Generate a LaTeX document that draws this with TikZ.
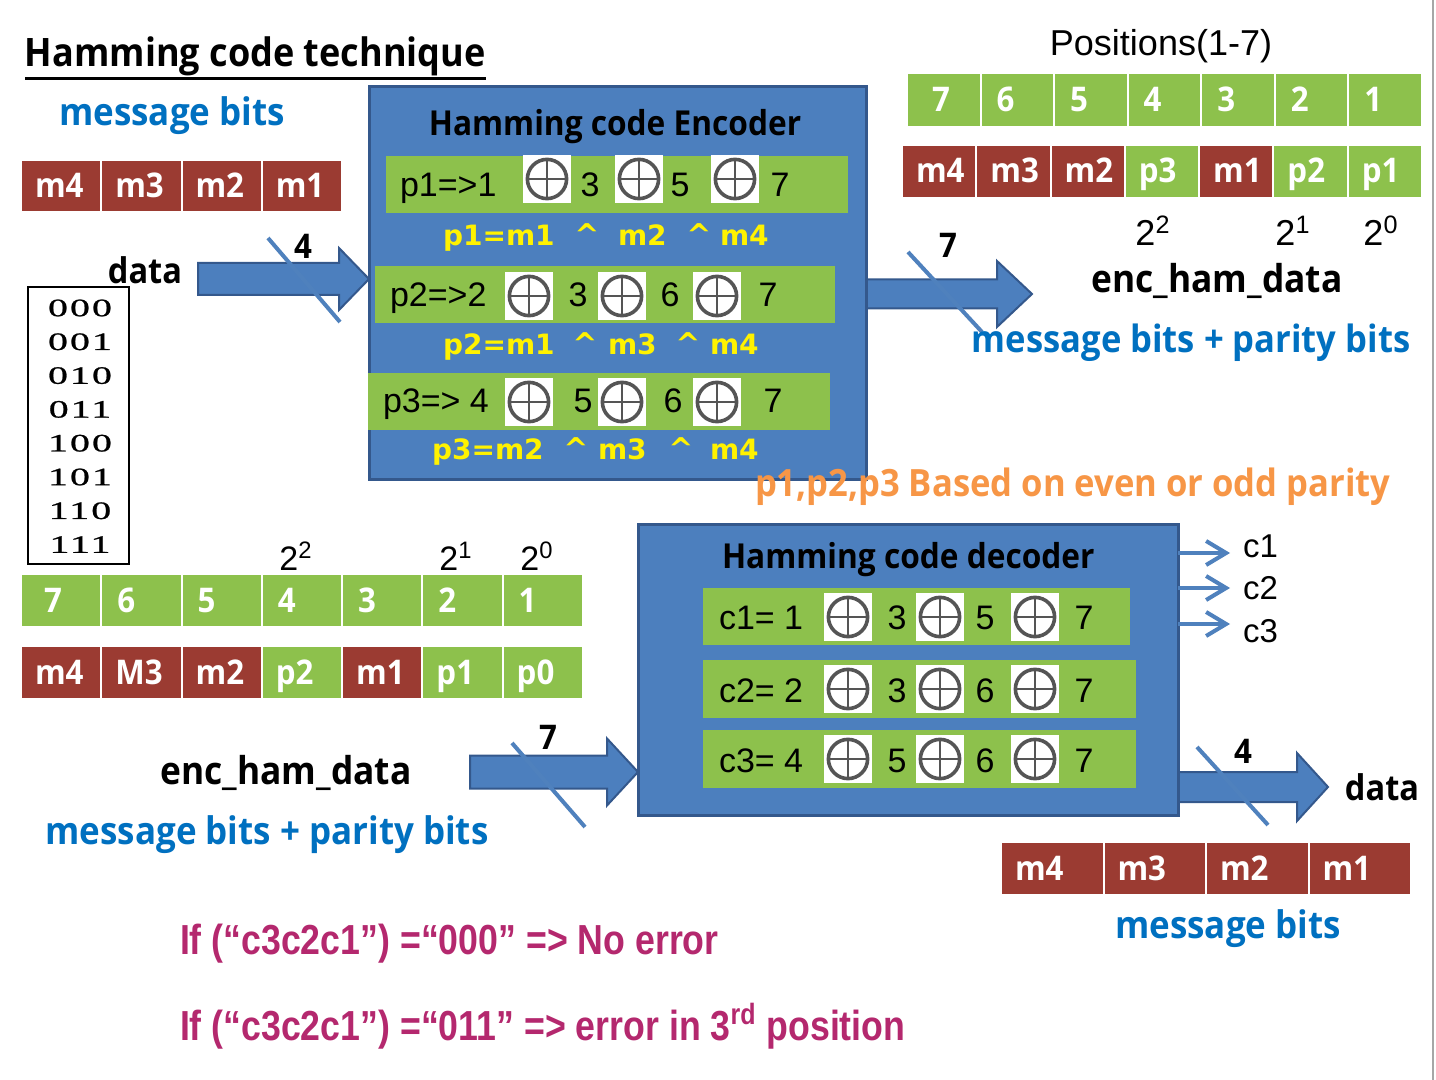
\documentclass[tikz,border=0pt]{standalone}
\usepackage{fontspec}
\setmainfont{Liberation Sans}
\newfontfamily\segf[FakeStretch=0.92]{Open Sans}
\newfontfamily\verf{DejaVu Sans}
\newfontfamily\narf[FakeStretch=0.85]{Liberation Sans}
\newfontfamily\copf[FakeStretch=1.6,LetterSpace=8,FakeBold=1]{Liberation Serif}
\usetikzlibrary{calc,arrows.meta}
\definecolor{cgreen}{RGB}{141,193,76}
\definecolor{cred}{RGB}{155,59,50}
\definecolor{bfill}{RGB}{76,127,190}
\definecolor{bdraw}{RGB}{52,88,140}
\definecolor{tblue}{RGB}{0,112,192}
\definecolor{torange}{RGB}{247,150,70}
\definecolor{tmag}{RGB}{180,40,110}
\definecolor{xorgray}{RGB}{85,85,85}
\definecolor{slashblue}{RGB}{79,129,189}
\tikzset{
  every node/.style={inner sep=0pt, outer sep=0pt},
  segb/.style={font=\segf\bfseries\fontsize{#1}{#1}\selectfont},
  arl/.style={font=\fontsize{#1}{#1}\selectfont},
  yel/.style={font=\verf\bfseries\fontsize{#1}{#1}\selectfont, text=yellow, anchor=base west},
  celltxt/.style={font=\segf\bfseries\fontsize{17}{17}\selectfont, text=white, anchor=base west},
  cellbox/.style={fill=#1, draw=white, line width=1pt},
  blockbox/.style={rectangle, fill=bfill, draw=bdraw, line width=1.5pt},
  greenrow/.style={rectangle, fill=cgreen},
  barrow/.style={fill=bfill, draw=bdraw, line width=1pt, line join=miter},
  slash/.style={draw=slashblue, line width=2pt},
  thinarrow/.style={draw=slashblue, line width=2pt, -{Straight Barb[length=10pt,width=12pt,line width=2pt]}},
  xorbox/.style={rectangle, fill=white, minimum size=24pt, path picture={
      \draw[xorgray, line width=1.8pt] (path picture bounding box.center) circle (9.8pt);
      \draw[xorgray, line width=1.4pt] ([yshift=9.8pt]path picture bounding box.center) -- ([yshift=-9.8pt]path picture bounding box.center)
        ([xshift=-9.8pt]path picture bounding box.center) -- ([xshift=9.8pt]path picture bounding box.center);}},
}
\newcommand\blockarrow[5]{%
  \draw[barrow] ($(#1)+(0,-#3)$) -- ($(#2)+(-#5,-#3)$) -- ($(#2)+(-#5,-#4)$) -- (#2)
    -- ($(#2)+(-#5,#4)$) -- ($(#2)+(-#5,#3)$) -- ($(#1)+(0,#3)$) -- cycle;}
\begin{document}
\begin{tikzpicture}[x=0.5pt,y=-0.5pt]
\useasboundingbox (0,0) rectangle (1436,1080);
\fill[white] (0,0) rectangle (1436,1080);
\draw[gray!70, line width=1pt] (1433,0) -- (1433,1080);

% ---------- title and message bits (top left)
\node[segb=19.6, anchor=base west] (title) at (25,67) {Hamming code technique};
\draw[line width=1.5pt] ([yshift=-6pt]title.base west) -- ([yshift=-6pt]title.base east);
\node[segb=19, text=tblue] (msg1) at (172,116) {message bits};
\foreach \t [count=\i from 0] in {m4,m3,m2,m1}{
  \path[cellbox=cred] ({21+\i*80.25},160) rectangle ({21+(\i+1)*80.25},212);
  \node[celltxt] (tl\i) at ({21+\i*80.25+14},198) {\t};
}
\node[segb=17.7] (data1) at (145,270) {data};
\node[draw, line width=0.8pt, minimum width=50.5pt, minimum height=138.5pt] (bin) at (78.5,425.5) {};
\foreach \t [count=\i from 0] in {000,001,010,011,100,101,110,111}{
  \node[font=\copf\fontsize{12.5}{12.5}\selectfont] (bin\i) at (80,{308+33.8*\i}) {\t};
}

% ---------- arrows (drawn under the boxes)
\coordinate (a1s) at (198,279);
\coordinate (a2t) at (1032,294);
\coordinate (a3s) at (470,772);
\coordinate (a4t) at (1328,787);

% ---------- encoder
\node[blockbox, minimum width=248.5pt, minimum height=196.5pt] (enc) at (617.5,283.5) {};
\coordinate (a1t) at (enc.west |- a1s);
\coordinate (a2s) at (enc.east |- a2t);
\blockarrow{a1s}{a1t}{16}{31}{30}
\blockarrow{a2s}{a2t}{14.5}{33}{35}
\node[blockbox, minimum width=248.5pt, minimum height=196.5pt] (encb) at (617.5,283.5) {};
\node[segb=17.2, anchor=base] (enctitle) at (615,136) {Hamming code Encoder};
\node[greenrow, minimum width=231pt, minimum height=28.5pt] (er1) at (617,184.5) {};
\node[greenrow, minimum width=230pt, minimum height=28.5pt] (er2) at (605,294.5) {};
\node[greenrow, minimum width=231pt, minimum height=28.5pt] (er3) at (599,401.5) {};
% row 1
\node[arl=17, anchor=base west] (e1a) at (400,197) {p1=>1};
\node[xorbox] (e1x1) at (547,179) {};
\node[xorbox] (e1x2) at (639,179) {};
\node[xorbox] (e1x3) at (735,179) {};
\node[arl=17, anchor=base] (e1n1) at (590,197) {3};
\node[arl=17, anchor=base] (e1n2) at (680,197) {5};
\node[arl=17, anchor=base] (e1n3) at (780,197) {7};
% row 2
\node[arl=17, anchor=base west] (e2a) at (390,307) {p2=>2};
\node[xorbox] (e2x1) at (529,296) {};
\node[xorbox] (e2x2) at (622,296) {};
\node[xorbox] (e2x3) at (717,296) {};
\node[arl=17, anchor=base] (e2n1) at (578,307) {3};
\node[arl=17, anchor=base] (e2n2) at (670,307) {6};
\node[arl=17, anchor=base] (e2n3) at (768,307) {7};
% row 3
\node[arl=17, anchor=base west] (e3a) at (383,413) {p3=> 4};
\node[xorbox] (e3x1) at (529,402) {};
\node[xorbox] (e3x2) at (622,402) {};
\node[xorbox] (e3x3) at (717,402) {};
\node[arl=17, anchor=base] (e3n1) at (583,413) {5};
\node[arl=17, anchor=base] (e3n2) at (673,413) {6};
\node[arl=17, anchor=base] (e3n3) at (773,413) {7};
% yellow equations
\node[yel=14] (y1a) at (443,246) {p1=m1};
\node[yel=15, anchor=base] (y1b) at (587,246) {\textasciicircum};
\node[yel=14] (y1c) at (618,246) {m2};
\node[yel=15, anchor=base] (y1d) at (699,246) {\textasciicircum};
\node[yel=14] (y1e) at (720,246) {m4};
\node[yel=14] (y2a) at (443,355) {p2=m1};
\node[yel=15, anchor=base] (y2b) at (585,355) {\textasciicircum};
\node[yel=14] (y2c) at (608,355) {m3};
\node[yel=15, anchor=base] (y2d) at (688,355) {\textasciicircum};
\node[yel=14] (y2e) at (710,355) {m4};
\node[yel=14] (y3a) at (432,460) {p3=m2};
\node[yel=15, anchor=base] (y3b) at (576,460) {\textasciicircum};
\node[yel=14] (y3c) at (598,460) {m3};
\node[yel=15, anchor=base] (y3d) at (681,460) {\textasciicircum};
\node[yel=14] (y3e) at (710,460) {m4};

% input arrow labels
\draw[slash] (268,238) -- (340,322);
\node[segb=17] (n4a) at (303,246) {4};
\draw[slash] (908,252) -- (982,332);
\node[segb=17] (n7a) at (948,245) {7};

% ---------- top right
\node[arl=18, anchor=base] (pos) at (1161,56) {Positions(1-7)};
\foreach \t [count=\i from 0] in {7,6,5,4,3,2,1}{
  \path[cellbox=cgreen] ({907+\i*73.57},73) rectangle ({907+(\i+1)*73.57},127);
  \node[celltxt] (tr\i) at ({907+\i*73.57+16+(\i==0)*9},112) {\t};
}
\foreach \t/\c [count=\i from 0] in {m4/cred,m3/cred,m2/cred,p3/cgreen,m1/cred,p2/cgreen,p1/cgreen}{
  \path[cellbox=\c] ({902+\i*74.29},145) rectangle ({902+(\i+1)*74.29},198);
  \node[celltxt] (trb\i) at ({902+\i*74.29+14},183) {\t};
}
\node[arl=18, anchor=base] (ts2) at (1153,246) {2\textsuperscript{2}};
\node[arl=18, anchor=base] (ts1) at (1293,246) {2\textsuperscript{1}};
\node[arl=18, anchor=base] (ts0) at (1381,246) {2\textsuperscript{0}};
\node[segb=19.2] (eh1) at (1217,281) {enc\_ham\_data};
\node[segb=18.8, text=tblue] (mp1) at (1191,343) {message bits + parity bits};
\node[segb=18.8, text=torange, anchor=base west] (par) at (755,497) {p1,p2,p3 Based on even or odd parity};

% ---------- bottom left tables
\node[arl=17, anchor=base] (bs2) at (296,571) {2\textsuperscript{2}};
\node[arl=17, anchor=base] (bs1) at (456,571) {2\textsuperscript{1}};
\node[arl=17, anchor=base] (bs0) at (537,571) {2\textsuperscript{0}};
\foreach \t [count=\i from 0] in {7,6,5,4,3,2,1}{
  \path[cellbox=cgreen] ({21+\i*80.29},574) rectangle ({21+(\i+1)*80.29},627);
  \node[celltxt] (bl\i) at ({21+\i*80.29+16+(\i==0)*7},612) {\t};
}
\foreach \t/\c [count=\i from 0] in {m4/cred,M3/cred,m2/cred,p2/cgreen,m1/cred,p1/cgreen,p0/cgreen}{
  \path[cellbox=\c] ({21+\i*80.29},646) rectangle ({21+(\i+1)*80.29},699);
  \node[celltxt] (blb\i) at ({21+\i*80.29+14},684) {\t};
}
\node[segb=19.2] (eh2) at (286,773) {enc\_ham\_data};
\node[segb=19, text=tblue] (mp2) at (267,835) {message bits + parity bits};

% ---------- decoder
\node[blockbox, minimum width=270pt, minimum height=145pt] (dec) at (908,670) {};
\coordinate (a3t) at (dec.west |- a3s);
\coordinate (a4s) at (dec.east |- a4t);
\blockarrow{a3s}{a3t}{16.5}{33.5}{31}
\blockarrow{a4s}{a4t}{15}{34}{31}
\node[blockbox, minimum width=270pt, minimum height=145pt] (decb) at (908,670) {};
\node[segb=17.2, anchor=base west] (dectitle) at (722,568) {Hamming code decoder};
\node[greenrow, minimum width=213.5pt, minimum height=28.5pt] (dr1) at (916.5,616.5) {};
\node[greenrow, minimum width=216.5pt, minimum height=29pt] (dr2) at (919.5,689) {};
\node[greenrow, minimum width=216.5pt, minimum height=29pt] (dr3) at (919.5,759) {};
\node[arl=17, anchor=base west] (d1a) at (719,630) {c1= 1};
\node[arl=17, anchor=base west] (d2a) at (719,702) {c2= 2};
\node[arl=17, anchor=base west] (d3a) at (719,772) {c3= 4};
\foreach \r/\yy/\yb/\na/\nb/\nc in {1/617/630/3/5/7, 2/689/702/3/6/7, 3/759/772/5/6/7}{
  \node[xorbox] (d\r x1) at (848,\yy) {};
  \node[xorbox] (d\r x2) at (940,\yy) {};
  \node[xorbox] (d\r x3) at (1035,\yy) {};
  \node[arl=17, anchor=base] (d\r n1) at (897,\yb) {\na};
  \node[arl=17, anchor=base] (d\r n2) at (985,\yb) {\nb};
  \node[arl=17, anchor=base] (d\r n3) at (1084,\yb) {\nc};
}
\draw[slash] (512,743) -- (585,827);
\node[segb=17] (n7b) at (548,737) {7};
\draw[slash] (1197,747) -- (1268,825);
\node[segb=17] (n4b) at (1243,751) {4};
\node[segb=17.7] (data2) at (1382,787) {data};

% syndrome outputs
\node[arl=16.5, anchor=base west] (c1) at (1243,558) {c1};
\node[arl=16.5, anchor=base west] (c2) at (1243,600) {c2};
\node[arl=16.5, anchor=base west] (c3) at (1243,642) {c3};
\draw[thinarrow] (dec.east |- 0,553) -- (1230,553);
\draw[thinarrow] (dec.east |- 0,588) -- (1230,588);
\draw[thinarrow] (dec.east |- 0,624) -- (1230,624);

% ---------- bottom right
\foreach \t [count=\i from 0] in {m4,m3,m2,m1}{
  \path[cellbox=cred] ({1001+\i*102.5},842) rectangle ({1001+(\i+1)*102.5},895);
  \node[celltxt] (br\i) at ({1001+\i*102.5+14},880) {\t};
}
\node[segb=19, text=tblue] (msg2) at (1228,929) {message bits};

% ---------- bottom text
\node[font=\narf\bfseries\fontsize{21}{21}\selectfont, text=tmag, anchor=base west] (if1) at (180,954) {If (“c3c2c1”) =“000” => No error};
\node[font=\narf\bfseries\fontsize{21}{21}\selectfont, text=tmag, anchor=base west] (if2) at (180,1040) {If (“c3c2c1”) =“011” => error in 3\textsuperscript{rd} position};
\end{tikzpicture}
\end{document}
